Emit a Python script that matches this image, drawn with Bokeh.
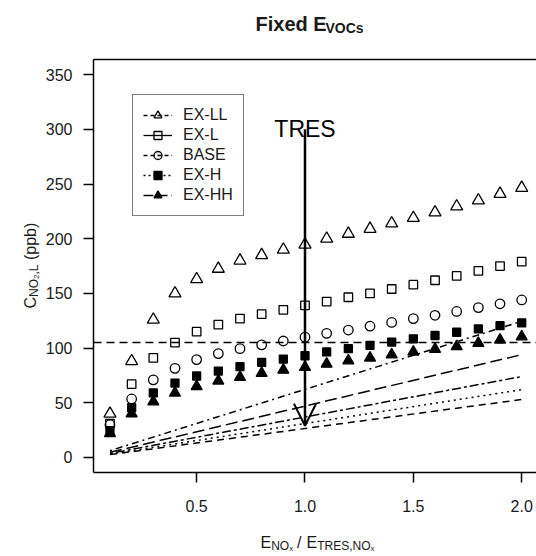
from bokeh.plotting import figure
from bokeh.models import (Range1d, LinearAxis, FixedTicker, NumeralTickFormatter,
                          Arrow, OpenHead, Label, Legend, LegendItem, ColumnDataSource)
from bokeh.embed import file_html
from bokeh.resources import INLINE
import math

# ---------------- data ----------------
x_vals = [0.1, 0.2, 0.3, 0.4, 0.5, 0.6, 0.7, 0.8, 0.9, 1.0,
          1.1, 1.2, 1.3, 1.4, 1.5, 1.6, 1.7, 1.8, 1.9, 2.0]
ex_ll = [40, 88, 126, 150, 163, 172.5, 180, 185, 190, 194.5,
         200, 204.5, 209, 214, 219, 224, 229.5, 235, 241, 246.5]
ex_l = [31, 67, 91, 105, 115, 121.5, 127, 131, 135, 139,
        142.5, 146.5, 150, 154, 158, 162, 166, 170.5, 175, 179]
base = [30, 53.5, 71, 81.5, 89.5, 95, 99.5, 103, 106.5, 110,
        113.5, 116.5, 120, 123.5, 127, 130, 133.5, 137, 140.5, 144]
ex_h = [24.5, 45.5, 59, 68, 74.5, 79, 83, 87, 90, 93,
        96.5, 99.5, 102.5, 105.5, 108.5, 111.5, 114.5, 117.5, 120.5, 123]
ex_hh = [22, 40, 51, 59, 65, 70, 73.5, 77, 80, 82.5,
         85.5, 88.5, 91, 94, 96.5, 99, 101.5, 104.5, 107.5, 110.5]

line_x = [0.1, 2.0]
line_dotdash = [6.2, 124.5]
line_longdash = [4.7, 94]
line_twodash = [3.7, 74]
line_dotted = [3.1, 62]
line_dashed = [2.65, 53]

threshold = 105
tres_x = 1.0
tres_top = 300
tres_tip = 29

y_ticks = [0, 50, 100, 150, 200, 250, 300, 350]
x_ticks = [0.5, 1.0, 1.5, 2.0]
series_names = ["EX-LL", "EX-L", "BASE", "EX-H", "EX-HH"]

FONT = "Liberation Sans"
W, H = 536, 556

# ---------------- geometry of the plotting box ----------------
BOX_X0, BOX_Y0, BOX_Y1 = 0.024, -14.0, 364.0     # data values at the box edges
BOX_L, BOX_T, BOX_B = 93.0, 58.8, 472.3          # canvas pixels of the box edges
PX_X = 216.7                                     # pixels per x unit
PX_Y = (BOX_B - BOX_T) / (BOX_Y1 - BOX_Y0)       # pixels per y unit

XMIN = BOX_X0 - BOX_L / PX_X
XMAX = BOX_X0 + (W - BOX_L) / PX_X
YMIN = BOX_Y0 - (H - BOX_B) / PX_Y
YMAX = BOX_Y1 + BOX_T / PX_Y


def dx(px):
    return BOX_X0 + (px - BOX_L) / PX_X


def dy(py):
    return BOX_Y0 + (BOX_B - py) / PX_Y


p = figure(width=W, height=H, output_backend="svg", toolbar_location=None,
           x_range=Range1d(XMIN, XMAX), y_range=Range1d(YMIN, YMAX),
           x_axis_type=None, y_axis_type=None, title=None)
p.min_border = 0
p.min_border_left = 0
p.min_border_right = 0
p.min_border_top = 0
p.min_border_bottom = 0
p.outline_line_color = None
p.xgrid.visible = False
p.ygrid.visible = False
p.background_fill_color = "white"
p.border_fill_color = "white"

# axes (drawn at the box edges)
xa = LinearAxis(ticker=FixedTicker(ticks=x_ticks), formatter=NumeralTickFormatter(format="0.0"),
                fixed_location=BOX_Y0, bounds=(BOX_X0, XMAX))
ya = LinearAxis(ticker=FixedTicker(ticks=y_ticks), fixed_location=BOX_X0,
                bounds=(BOX_Y0, BOX_Y1))
for ax, out, stand in ((xa, 10, 17), (ya, 10, 11)):
    ax.axis_line_color = "black"
    ax.axis_line_width = 1.5
    ax.major_tick_line_color = "black"
    ax.major_tick_line_width = 1.5
    ax.major_tick_out = out
    ax.major_tick_in = 0
    ax.minor_tick_line_color = None
    ax.major_label_standoff = stand
    ax.major_label_text_font = FONT
    ax.major_label_text_font_size = "16px"
    ax.major_label_text_color = "#1a1a1a"
p.add_layout(xa, "below")
p.add_layout(ya, "left")

top = LinearAxis(ticker=FixedTicker(ticks=[]), fixed_location=BOX_Y1, bounds=(BOX_X0, XMAX))
top.axis_line_color = "black"
top.axis_line_width = 1.5
top.major_tick_line_color = None
top.minor_tick_line_color = None
top.major_label_text_color = None
p.add_layout(top, "above")

# threshold line across the box
p.line([BOX_X0, XMAX], [threshold, threshold], line_color="black", line_width=1.5, line_dash="8 5")

# straight trend lines
for ys, dash in ((line_dotdash, "2 4 7 4"), (line_longdash, "12 5"), (line_twodash, "3 3 9 3"),
                 (line_dotted, "2 4"), (line_dashed, "7 5")):
    p.line(line_x, ys, line_color="black", line_width=1.5, line_dash=dash)

# points
mk = dict(line_color="black", line_width=1.3)
r_ll = p.scatter(x_vals, ex_ll, marker="triangle", size=12, fill_color=None, **mk)
r_l = p.scatter(x_vals, ex_l, marker="square", size=8.5, fill_color=None, **mk)
r_b = p.scatter(x_vals, base, marker="circle", size=9.5, fill_color=None, **mk)
r_h = p.scatter(x_vals, ex_h, marker="square", size=8, fill_color="black", **mk)
r_hh = p.scatter(x_vals, ex_hh, marker="triangle", size=11, fill_color="black", **mk)

# TRES arrow
p.add_layout(Arrow(end=OpenHead(size=22, line_width=2, line_color="black"),
                   x_start=tres_x, y_start=tres_top, x_end=tres_x, y_end=tres_tip,
                   line_width=2.5, line_color="black"))
p.add_layout(Label(x=tres_x, y=tres_top, text="TRES", text_align="center",
                   text_baseline="alphabetic", text_font=FONT, text_font_size="23px",
                   text_color="black"))

# legend
nan = float("nan")
legend_lines = []
for dash in ("4 3", "solid", "4 3", "2 3", "10 4"):
    src = ColumnDataSource(data=dict(x=[nan], y=[nan]))
    legend_lines.append(p.line("x", "y", source=src, line_color="black", line_width=1.3,
                               line_dash=dash))
items = [LegendItem(label=n, renderers=[ln, r])
         for n, ln, r in zip(series_names, legend_lines, [r_ll, r_l, r_b, r_h, r_hh])]
legend = Legend(items=items, location=(132, 340), glyph_width=29, glyph_height=20,
                label_height=20, label_standoff=11, spacing=0, padding=10, margin=0,
                label_text_font=FONT, label_text_font_size="16px", label_text_color="#1a1a1a",
                border_line_color="black", border_line_width=1.5,
                background_fill_color="white", background_fill_alpha=1.0)
p.add_layout(legend, "center")


def lab(text, px, py, size, bold=False, angle=0.0):
    p.add_layout(Label(x=dx(px), y=dy(py), text=text, text_align="left",
                       text_baseline="alphabetic", text_font=FONT, text_font_size=size,
                       text_font_style="bold" if bold else "normal", text_color="#1a1a1a",
                       angle=angle))


# title
lab("Fixed E", 255, 23, "20px", bold=True)
lab("VOCs", 325, 27, "14px", bold=True)

# x-axis label
lab("E", 260, 542, "16px")
lab("NO", 270.7, 545.5, "12px")
lab("x", 288.7, 547.5, "8px")
lab("/", 296.5, 542, "16px")
lab("E", 306, 542, "16px")
lab("TRES,NO", 316.7, 545.5, "12px")
lab("x", 370, 547.5, "8px")

# y-axis label (rotated)
A = math.pi / 2
lab("C", 29.5, 308, "16px", angle=A)
lab("NO", 33.5, 296.4, "12px", angle=A)
lab("2", 35.5, 278.4, "8px", angle=A)
lab(",L", 33.5, 274, "12px", angle=A)
lab("(ppb)", 29.5, 259.5, "16px", angle=A)

open("out.html", "w").write(file_html(p, INLINE))
